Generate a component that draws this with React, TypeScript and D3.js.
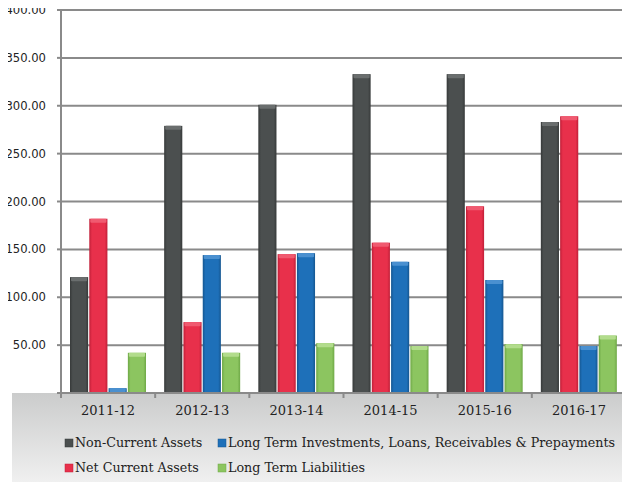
import React, { useEffect, useRef } from 'react';
import * as d3 from 'd3';

const years = ['2011-12', '2012-13', '2013-14', '2014-15', '2015-16', '2016-17'];
const seriesNames = [
    'Non-Current Assets',
    'Net Current Assets',
    'Long Term Investments, Loans, Receivables & Prepayments',
    'Long Term Liabilities',
];
const nonCurrentAssets = [121, 279, 301, 333, 333, 283];
const netCurrentAssets = [182, 74, 145, 157, 195, 289];
const longTermInvestments = [5, 144, 146, 137, 118, 49];
const longTermLiabilities = [42, 42, 52, 49, 51, 60];
const yTicks = [0, 50, 100, 150, 200, 250, 300, 350, 400];

const colors = [
    { base: '#4b4f4f', dark: '#363939', light: '#6a6e6e' },
    { base: '#e8304b', dark: '#c01f38', light: '#f05a70' },
    { base: '#1e70b9', dark: '#155690', light: '#4a90d0' },
    { base: '#8cc560', dark: '#6ea846', light: '#b2dc8c' },
];

function BarChart({ width = 630, height = 490 }) {
    const ref = useRef(null);

    useEffect(() => {
        const svg = d3.select(ref.current);
        svg.selectAll('*').remove();

        const values = [nonCurrentAssets, netCurrentAssets, longTermInvestments, longTermLiabilities];
        const left = 61, right = 626, top = 10, bottom = 393;

        const x = d3.scaleBand().domain(years).range([left, right]);
        const inner = d3.scaleBand().domain(d3.range(4).map(String)).range([9, 85]).paddingInner(0.06);
        const y = d3.scaleLinear().domain([0, 400]).range([bottom, top]);

        const defs = svg.append('defs');
        colors.forEach((c, i) => {
            const g = defs.append('linearGradient').attr('id', `bar${i}`).attr('x1', 0).attr('x2', 1);
            g.append('stop').attr('offset', 0).attr('stop-color', c.dark);
            g.append('stop').attr('offset', 0.15).attr('stop-color', c.base);
            g.append('stop').attr('offset', 0.85).attr('stop-color', c.base);
            g.append('stop').attr('offset', 1).attr('stop-color', c.dark);
        });
        const bg = defs.append('linearGradient').attr('id', 'legendBg').attr('x1', 0).attr('x2', 0).attr('y1', 0).attr('y2', 1);
        bg.append('stop').attr('offset', 0).attr('stop-color', '#cbcccc');
        bg.append('stop').attr('offset', 1).attr('stop-color', '#f3f3f3');

        // gridlines
        svg.append('g').selectAll('line').data(yTicks.slice(1)).join('line')
            .attr('x1', left).attr('x2', right)
            .attr('y1', d => y(d)).attr('y2', d => y(d))
            .attr('stroke', '#8a8a8a').attr('stroke-width', 2);

        // y labels
        svg.append('g').selectAll('text').data(yTicks).join('text')
            .attr('x', d => d === 0 ? 38 : 46)
            .attr('y', d => y(d))
            .attr('dy', '0.35em')
            .attr('text-anchor', 'end')
            .style('font-family', 'DejaVu Sans')
            .style('font-size', '11.6px')
            .attr('fill', '#222')
            .text(d => d === 0 ? '-' : d3.format('.2f')(d));

        // legend / x-axis background
        svg.append('rect')
            .attr('x', 12).attr('y', bottom).attr('width', 615).attr('height', height - bottom)
            .attr('fill', 'url(#legendBg)');

        // left axis
        svg.append('line')
            .attr('x1', left).attr('x2', left).attr('y1', top).attr('y2', bottom + 4)
            .attr('stroke', '#8a8a8a').attr('stroke-width', 2);
        svg.append('g').selectAll('line').data(yTicks).join('line')
            .attr('x1', left - 4).attr('x2', left)
            .attr('y1', d => y(d)).attr('y2', d => y(d))
            .attr('stroke', '#8a8a8a').attr('stroke-width', 2);

        // bars
        const groups = svg.append('g').selectAll('g').data(years).join('g')
            .attr('transform', d => `translate(${x(d)},0)`);
        values.forEach((vals, si) => {
            const c = colors[si];
            groups.append('rect')
                .attr('x', inner(String(si)))
                .attr('y', (d, i) => y(vals[i]))
                .attr('width', inner.bandwidth())
                .attr('height', (d, i) => y(0) - y(vals[i]))
                .attr('fill', `url(#bar${si})`);
            groups.append('rect')
                .attr('x', inner(String(si)) + 1)
                .attr('y', (d, i) => y(vals[i]))
                .attr('width', inner.bandwidth() - 2)
                .attr('height', (d, i) => Math.min(4, y(0) - y(vals[i])))
                .attr('rx', 1)
                .attr('fill', c.light);
        });

        // bottom axis
        svg.append('line')
            .attr('x1', left).attr('x2', right).attr('y1', bottom).attr('y2', bottom)
            .attr('stroke', '#8a8a8a').attr('stroke-width', 2);
        svg.append('g').selectAll('line').data([...years.map(d => x(d)), right]).join('line')
            .attr('x1', d => d).attr('x2', d => d)
            .attr('y1', bottom).attr('y2', bottom + 5)
            .attr('stroke', '#8a8a8a').attr('stroke-width', 2);

        svg.append('g').selectAll('text').data(years).join('text')
            .attr('x', d => x(d) + x.bandwidth() / 2)
            .attr('y', 415)
            .attr('text-anchor', 'middle')
            .style('font-family', 'DejaVu Serif')
            .style('font-size', '13px')
            .attr('fill', '#222')
            .text(d => d);

        // legend
        const legendPos = [
            { x: 65, y: 443 },
            { x: 65, y: 468 },
            { x: 218, y: 443 },
            { x: 218, y: 468 },
        ];
        seriesNames.forEach((name, i) => {
            const p = legendPos[i];
            svg.append('rect')
                .attr('x', p.x).attr('y', p.y - 4).attr('width', 8).attr('height', 8)
                .attr('fill', colors[i].base)
                .attr('stroke', colors[i].dark).attr('stroke-width', 0.5);
            svg.append('text')
                .attr('x', p.x + 10).attr('y', p.y)
                .attr('dy', '0.35em')
                .style('font-family', 'DejaVu Serif')
                .style('font-size', '12.7px')
                .attr('fill', '#222')
                .text(name);
        });
    }, [width, height]);

    return (
        <svg ref={ref} width={width} height={height} style={{ display: 'block' }}></svg>
    );
}

export default function App() {
    return (
        <div style={{ margin: -8 }}>
            <BarChart />
        </div>
    );
}
